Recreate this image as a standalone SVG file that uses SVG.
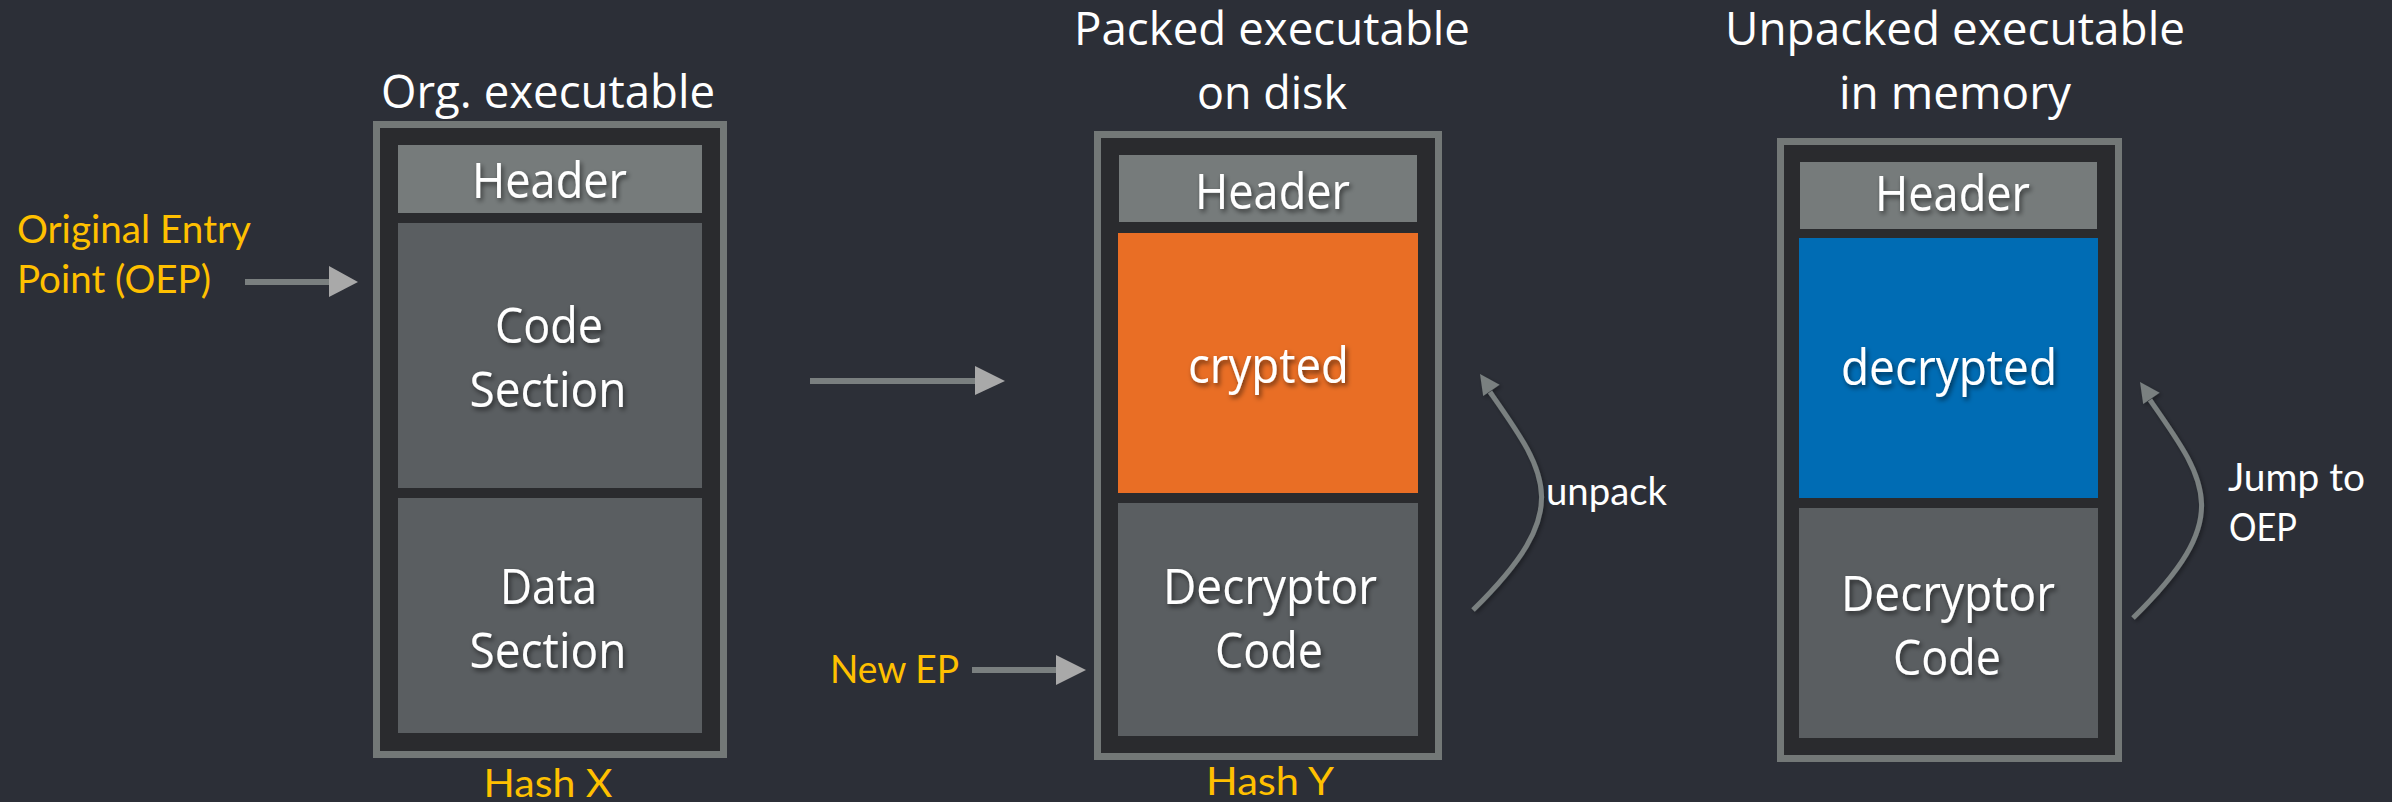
<svg xmlns="http://www.w3.org/2000/svg" width="2392" height="802" viewBox="0 0 2392 802">
  <defs>
    <filter id="txtShadow" x="-10%" y="-20%" width="130%" height="160%">
      <feDropShadow dx="2" dy="3" stdDeviation="2.5" flood-color="#000000" flood-opacity="0.55"/>
    </filter>
    <filter id="lineShadow" x="-20%" y="-20%" width="140%" height="140%">
      <feDropShadow dx="2" dy="2" stdDeviation="2" flood-color="#000000" flood-opacity="0.35"/>
    </filter>
  </defs>
  <style>
    .frame { fill: #2a2b2e; stroke: #737877; stroke-width: 7; }
    .header { fill: #767b7b; }
    .section { fill: #5a5e61; }
    .crypted { fill: #e96e25; }
    .decrypted { fill: #006cb4; }
    .title { font-family: "Open Sans", "DejaVu Sans", sans-serif; font-size: 45px; fill: #ffffff; text-anchor: middle; }
    .label { font-family: "Open Sans", "DejaVu Sans", sans-serif; font-size: 49px; fill: #ffffff; text-anchor: middle; filter: url(#txtShadow); }
    .note { font-family: Lato, "Liberation Sans", sans-serif; font-size: 39px; fill: #ffc000; }
    .note-w { font-family: Lato, "Liberation Sans", sans-serif; font-size: 39px; fill: #ffffff; }
    .shaft { stroke: #7a7f7f; stroke-width: 6; fill: none; }
    .head { fill: #a9a9a9; }
    .curve { stroke: #7a8080; stroke-width: 5; fill: none; }
    .curve-head { fill: #7a8080; }
  </style>

  <rect x="0" y="0" width="2392" height="802" fill="#2c2f37"/>

  <!-- original executable -->
  <g id="org-exe">
    <text class="title" x="548" y="108" textLength="334" lengthAdjust="spacingAndGlyphs">Org. executable</text>
    <rect class="frame" x="376.5" y="124.5" width="347" height="630"/>
    <rect class="header" x="398" y="145" width="304" height="68"/>
    <text class="label" x="549.5" y="197.6" textLength="155" lengthAdjust="spacingAndGlyphs">Header</text>
    <rect class="section" x="398" y="223" width="304" height="265"/>
    <text class="label" x="549" y="343" textLength="108" lengthAdjust="spacingAndGlyphs">Code</text>
    <text class="label" x="548" y="406.6" textLength="157" lengthAdjust="spacingAndGlyphs">Section</text>
    <rect class="section" x="398" y="498" width="304" height="235"/>
    <text class="label" x="548.5" y="603.6" textLength="97" lengthAdjust="spacingAndGlyphs">Data</text>
    <text class="label" x="548" y="667.6" textLength="157" lengthAdjust="spacingAndGlyphs">Section</text>
    <text class="note" x="548" y="797" text-anchor="middle" textLength="129" lengthAdjust="spacingAndGlyphs">Hash X</text>
  </g>

  <!-- packed executable on disk -->
  <g id="packed-exe">
    <text class="title" x="1272" y="45" textLength="396" lengthAdjust="spacingAndGlyphs">Packed executable</text>
    <text class="title" x="1272" y="109" textLength="150" lengthAdjust="spacingAndGlyphs">on disk</text>
    <rect class="frame" x="1097.5" y="134.5" width="341" height="622"/>
    <rect class="header" x="1119" y="155" width="298" height="67"/>
    <text class="label" x="1272.5" y="208.7" textLength="155" lengthAdjust="spacingAndGlyphs">Header</text>
    <rect class="crypted" x="1118" y="233" width="300" height="260"/>
    <text class="label" x="1268.5" y="382.6" textLength="161" lengthAdjust="spacingAndGlyphs">crypted</text>
    <rect class="section" x="1118" y="503" width="300" height="233"/>
    <text class="label" x="1270" y="603.6" textLength="214" lengthAdjust="spacingAndGlyphs">Decryptor</text>
    <text class="label" x="1269" y="667.5" textLength="108" lengthAdjust="spacingAndGlyphs">Code</text>
    <text class="note" x="1270" y="795" text-anchor="middle" textLength="128" lengthAdjust="spacingAndGlyphs">Hash Y</text>
  </g>

  <!-- unpacked executable in memory -->
  <g id="unpacked-exe">
    <text class="title" x="1955" y="45" textLength="460" lengthAdjust="spacingAndGlyphs">Unpacked executable</text>
    <text class="title" x="1955" y="109" textLength="232" lengthAdjust="spacingAndGlyphs">in memory</text>
    <rect class="frame" x="1780.5" y="141.5" width="338" height="617"/>
    <rect class="header" x="1800" y="162" width="297" height="67"/>
    <text class="label" x="1952.5" y="210.7" textLength="155" lengthAdjust="spacingAndGlyphs">Header</text>
    <rect class="decrypted" x="1799" y="238" width="299" height="260"/>
    <text class="label" x="1949" y="384.7" textLength="216" lengthAdjust="spacingAndGlyphs">decrypted</text>
    <rect class="section" x="1799" y="508" width="299" height="230"/>
    <text class="label" x="1948" y="611" textLength="214" lengthAdjust="spacingAndGlyphs">Decryptor</text>
    <text class="label" x="1947" y="675" textLength="108" lengthAdjust="spacingAndGlyphs">Code</text>
  </g>

  <!-- entry point labels -->
  <g id="oep-label">
    <text class="note" x="17" y="243" textLength="234" lengthAdjust="spacingAndGlyphs">Original Entry</text>
    <text class="note" x="17" y="293" textLength="194" lengthAdjust="spacingAndGlyphs">Point (OEP)</text>
  </g>
  <g id="new-ep-label">
    <text class="note" x="830" y="683" textLength="129" lengthAdjust="spacingAndGlyphs">New EP</text>
  </g>
  <g id="unpack-label">
    <text class="note-w" x="1546" y="505" textLength="121" lengthAdjust="spacingAndGlyphs">unpack</text>
  </g>
  <g id="jump-label">
    <text class="note-w" x="2228" y="491" textLength="137" lengthAdjust="spacingAndGlyphs">Jump to</text>
    <text class="note-w" x="2229" y="541" textLength="68" lengthAdjust="spacingAndGlyphs">OEP</text>
  </g>

  <!-- connectors -->
  <g id="connectors">
    <line class="shaft" x1="245" y1="282" x2="331" y2="282"/>
    <polygon class="head" points="329,266 358,282 329,297"/>

    <line class="shaft" x1="810" y1="381" x2="977" y2="381"/>
    <polygon class="head" points="975,366 1005,381 975,395"/>

    <line class="shaft" x1="972" y1="670" x2="1058" y2="670"/>
    <polygon class="head" points="1056,655 1086,670 1056,685"/>

    <g filter="url(#lineShadow)">
      <path class="curve" d="M1473,610 C1575,510 1548,475 1490,392"/>
      <polygon class="curve-head" points="1480,374 1499.6,384.7 1483.2,396.1"/>
      <path class="curve" d="M2133,618 C2235,518 2208,483 2150,400"/>
      <polygon class="curve-head" points="2140,382 2159.6,392.7 2143.2,404.1"/>
    </g>
  </g>
</svg>
